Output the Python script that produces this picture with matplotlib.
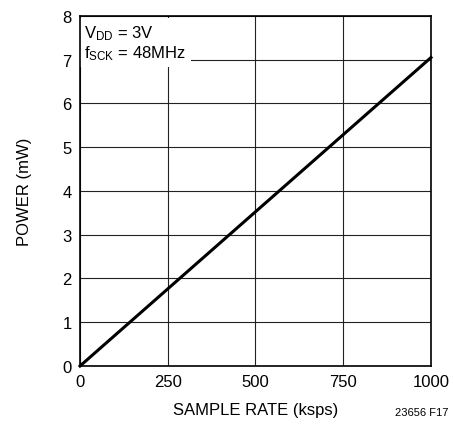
import matplotlib
matplotlib.use("Agg")
import matplotlib.pyplot as plt

# data
rate = [0, 1000]          # sample rate, ksps
power = [0, 7.05]         # power, mW
xticks = [0, 250, 500, 750, 1000]
yticks = [0, 1, 2, 3, 4, 5, 6, 7, 8]

plt.rcParams['font.family'] = ['Liberation Sans', 'DejaVu Sans']
plt.rcParams['mathtext.default'] = 'regular'

fig = plt.figure(figsize=(4.53, 4.35), dpi=100)
ax = fig.add_axes([0.1766, 0.1563, 0.7748, 0.8047])

ax.set_xlim(0, 1000)
ax.set_ylim(0, 8)
ax.set_xticks(xticks)
ax.set_yticks(yticks)
ax.tick_params(length=0, labelsize=12, pad=6)

# grid behind everything
ax.set_axisbelow(True)
ax.grid(True, color='#222222', linewidth=0.8)
for s in ax.spines.values():
    s.set_linewidth(1.2)

ax.plot(rate, power, color='black', linewidth=2.2, zorder=3, clip_on=False)

# condition label in white box
ax.text(0.012, 0.98, '$V_{DD}$ = 3V\n$f_{SCK}$ = 48MHz', transform=ax.transAxes,
        fontsize=12, va='top', ha='left', linespacing=1.15,
        bbox=dict(facecolor='white', edgecolor='none', pad=3.5), zorder=2)

ax.set_xlabel('SAMPLE RATE (ksps)', fontsize=12, labelpad=9)
ax.set_ylabel('POWER (mW)', fontsize=12, labelpad=22)

fig.text(0.99, 0.04, '23656 F17', fontsize=8, ha='right', va='bottom')

fig.savefig('out.png', dpi=100)
